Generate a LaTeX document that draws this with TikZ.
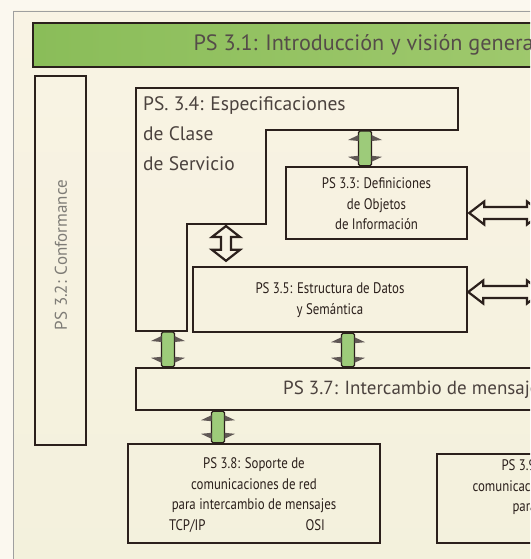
\documentclass[tikz,border=0pt]{standalone}
\usepackage{fontspec}
\setmainfont{PT Sans}
\newfontfamily\condfont[FakeStretch=0.84]{PT Sans}
\usetikzlibrary{calc}

\definecolor{ink}{HTML}{2B201C}
\definecolor{cream}{HTML}{F9F3E4}
\definecolor{paleleaf}{HTML}{B6D28A}
\definecolor{lowcream}{HTML}{F3F1DC}
\definecolor{barleaf}{HTML}{8ABD59}
\definecolor{barleaflight}{HTML}{A0C96E}
\definecolor{linkleaf}{HTML}{9DCB7A}
\definecolor{greytext}{HTML}{7E7C76}

\tikzset{
  box/.style={draw=ink, line width=2.4pt, inner sep=0pt},
  bigtext/.style={font=\fontsize{19.5}{30}\selectfont, text=ink!85, inner sep=0pt},
  smalltext/.style={font=\condfont\fontsize{15.3}{20.5}\selectfont, text=ink, align=center},
  greenlink/.style={draw=ink, line width=1.3pt, fill=linkleaf, rounded corners=1.5pt},
  barb/.style={fill=ink!75},
  openlink/.style={draw=ink, line width=2.2pt, fill=cream, fill opacity=0.45, line join=miter},
}

% green double link, #1 upper end, #2 lower end (same x)
\newcommand\greenlink[2]{%
  \draw[greenlink] let \p1=#1, \p2=#2 in (\x1-6.5,\y1) rectangle (\x1+6.5,\y2);
  \fill[barb] let \p1=#1, \p2=#2 in
    (\x1-6.5,\y1-4) -- (\x1-17,\y1-9) -- (\x1-6.5,\y1-10) -- cycle
    (\x1+6.5,\y1-4) -- (\x1+17,\y1-9) -- (\x1+6.5,\y1-10) -- cycle
    (\x1-6.5,\y2+4) -- (\x1-17,\y2+9) -- (\x1-6.5,\y2+10) -- cycle
    (\x1+6.5,\y2+4) -- (\x1+17,\y2+9) -- (\x1+6.5,\y2+10) -- cycle;
}
% open double block arrow, vertical
\newcommand\openlinkv[2]{%
  \draw[openlink] let \p1=#1, \p2=#2 in
    (\x1,\y1) -- (\x1+14,\y1-11) -- (\x1+5,\y1-11) -- (\x1+5,\y2+11) -- (\x1+14,\y2+11)
    -- (\x1,\y2) -- (\x1-14,\y2+11) -- (\x1-5,\y2+11) -- (\x1-5,\y1-11) -- (\x1-14,\y1-11) -- cycle;
}
% open double block arrow, horizontal
\newcommand\openlinkh[2]{%
  \draw[openlink] let \p1=#1, \p2=#2 in
    (\x1,\y1) -- (\x1+15,\y1+11.5) -- (\x1+15,\y1+6) -- (\x2-15,\y1+6) -- (\x2-15,\y1+11.5)
    -- (\x2,\y1) -- (\x2-15,\y1-11.5) -- (\x2-15,\y1-6) -- (\x1+15,\y1-6) -- (\x1+15,\y1-11.5) -- cycle;
}

\begin{document}
\begin{tikzpicture}[x=1pt, y=-1pt]
  \useasboundingbox (0,0) rectangle (530,559);
  \clip (0,0) rectangle (530,559);

  % paper and frame
  \fill[cream!60!white] (0,0) rectangle (530,559);
  \shade[top color=cream, middle color=paleleaf, bottom color=lowcream] (13,11) rectangle (560,575);
  \draw[gray!75, line width=0.8pt] (13,575) -- (13,11) -- (560,11);

  % boxes
  \node[box, left color=barleaf, right color=barleaflight, minimum width=527pt, minimum height=44pt] (p31) at (296.5,45) {};
  \node[box, minimum width=51pt, minimum height=369pt] (p32) at (60.5,260.5) {};
  \node[box, minimum width=181pt, minimum height=72pt] (p33) at (376.5,203) {};
  \node[box, minimum width=274pt, minimum height=65pt] (p35) at (330,299.5) {};
  \node[box, minimum width=424pt, minimum height=42pt] (p37) at (348,389) {};
  \node[box, minimum width=252pt, minimum height=99pt] (p38) at (254,493.5) {};
  \node[box, minimum width=252pt, minimum height=89pt] (p39) at (563,498.5) {};

  \coordinate (s34a) at (458,130);
  \coordinate (s34b) at (266,224);
  \coordinate (s34c) at (187,331);
  \draw[box] (136,88) -- (458,88) -- (s34a) -- (266,130) -- (s34b) -- (187,224) -- (s34c) -- (136,331) -- cycle;

  % links
  \greenlink{(365,131)}{([xshift=-11.5pt]p33.north)}
  \greenlink{(168,332)}{([xshift=-180pt]p37.north)}
  \greenlink{([xshift=18pt]p35.south)}{([xshift=0pt]p37.north)}
  \greenlink{([xshift=-130pt]p37.south)}{([xshift=-36pt]p38.north)}
  \openlinkv{([xshift=-40pt,yshift=-2pt]s34b)}{([xshift=-104pt,yshift=5pt]p35.north)}
  \coordinate (r33) at (542,213);
  \coordinate (r35) at (542,292);
  \openlinkh{([yshift=-10pt,xshift=1pt]p33.east)}{(r33)}
  \openlinkh{([yshift=7.5pt]p35.east)}{(r35)}

  % texts
  \node[anchor=west, font=\fontsize{22.2}{22}\selectfont, text=ink!80] (t31) at (190,45) {PS 3.1: Introducción y visión general};
  \node[rotate=90, font=\fontsize{17}{17}\selectfont, text=greytext] (t32) at (61,255) {PS 3.2: Conformance};
  \node[bigtext, anchor=north west, align=left] (t34) at (143,96) {PS. 3.4: Especificaciones\\de Clase\\de Servicio};
  \node[smalltext] (t33) at (376.5,204) {PS 3.3: Definiciones\\de Objetos\\de Información};
  \node[smalltext] (t35) at (330,300) {PS 3.5: Estructura de Datos\\y Semántica};
  \node[bigtext, anchor=west, font=\fontsize{19}{19}\selectfont] (t37) at (283,390) {PS 3.7: Intercambio de mensajes};
  \node[smalltext] (t38) at (254,495) {PS 3.8: Soporte de\\comunicaciones de red\\para intercambio de mensajes\\TCP/IP\hspace{100pt}OSI\hspace*{14pt}};
  \node[smalltext, anchor=west] (t39a) at (498,467) {PS 3.9: Soporte de};
  \node[smalltext, anchor=west] (t39b) at (469,487.5) {comunicaciones punto a punto};
  \node[smalltext, anchor=west] (t39c) at (509,508) {para intercambio de mensajes};
\end{tikzpicture}
\end{document}
